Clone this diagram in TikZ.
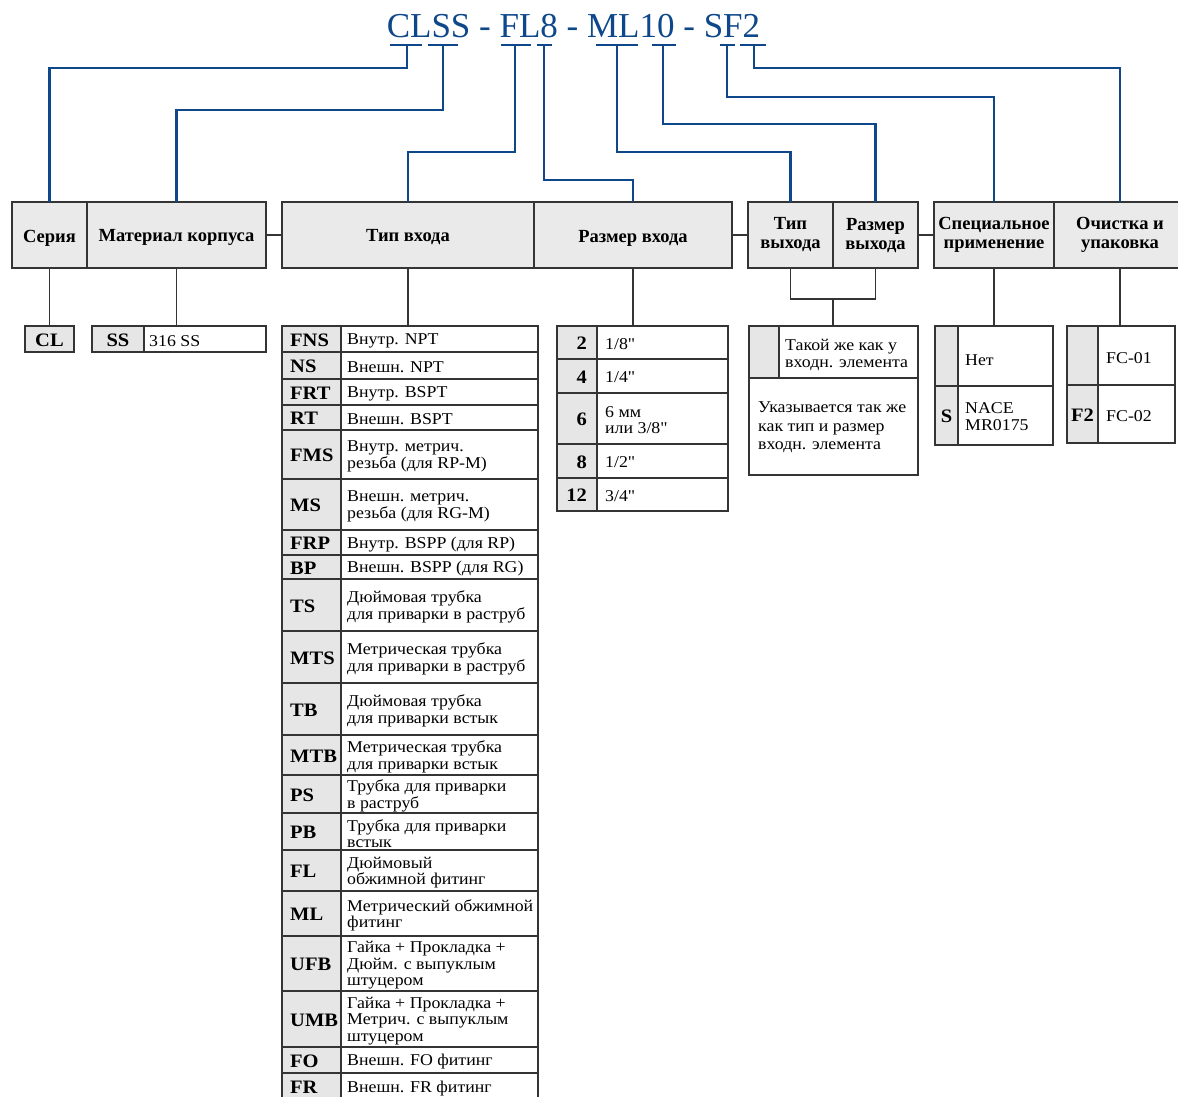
\documentclass[tikz,border=0pt]{standalone}
\usepackage{fontspec}
\setmainfont{Liberation Serif}
\newfontfamily\tabfont{Liberation Serif}[FakeStretch=1.08]
\usetikzlibrary{calc}

\definecolor{codeblue}{RGB}{14,72,138}
\definecolor{rulegray}{RGB}{52,52,52}
\definecolor{headfill}{RGB}{234,234,234}
\definecolor{keyfill}{RGB}{230,230,230}

\tikzset{
  frame/.style={draw=rulegray, line width=1.4pt, inner sep=0pt, outer sep=0pt},
  headbox/.style={frame, fill=headfill},
  headtxt/.style={inner sep=0pt, align=center, font=\bfseries\fontsize{18.5}{19}\selectfont},
  keybox/.style={frame, fill=keyfill},
  textbox/.style={frame, fill=white},
  keytxt/.style={inner sep=0pt, font=\tabfont\bfseries\fontsize{19}{19}\selectfont},
  desctxt/.style={inner sep=0pt, align=left, font=\tabfont\fontsize{16.5}{16.5}\selectfont},
  conn/.style={draw=codeblue, line width=2.2pt},
  link/.style={draw=rulegray, line width=1.4pt},
}

% rectangular cell given by its corners (x1,y1)-(x2,y2), y counted downwards
\newcommand\cellbox[6]{%
  \pgfmathsetmacro\cellw{#4-#2}\pgfmathsetmacro\cellh{#5-#3}%
  \node[#6, anchor=north west, minimum width=\cellw pt, minimum height=\cellh pt] (#1) at (#2,#3) {};}
% header cell with centred text, #7 = vertical shift of the text
\newcommand\headcell[7]{%
  \cellbox{#1}{#2}{#3}{#4}{#5}{headbox}
  \node[headtxt] (#1-t) at ([yshift=#7]#1.center) {#6};}
% one row of the inlet type table
\newcommand\inrow[5]{%
  \cellbox{c#1}{282}{#2}{341}{#3}{keybox}
  \cellbox{d#1}{341}{#2}{538}{#3}{textbox}
  \node[keytxt, anchor=west] (k#1) at ([xshift=8pt,yshift=-1pt]c#1.west) {#4};
  \node[desctxt, anchor=west] (s#1) at ([xshift=6pt,yshift=-2pt]d#1.west) {#5};}
% one row of the inlet size table
\newcommand\sizerow[5]{%
  \cellbox{z#1}{557}{#2}{597}{#3}{keybox}
  \cellbox{w#1}{597}{#2}{728}{#3}{textbox}
  \node[keytxt, anchor=east] (kz#1) at ([xshift=-10pt,yshift=-1pt]z#1.east) {#4};
  \node[desctxt, anchor=west] (sz#1) at ([xshift=8pt,yshift=-1.5pt]w#1.west) {#5};}

\begin{document}
\begin{tikzpicture}[x=1pt, y=-1pt]
\useasboundingbox (0,0) rectangle (1178,1096);
\fill[white] (0,0) rectangle (1178,1096);

% ordering code
\node[inner sep=0pt, text=codeblue, font=\fontsize{35}{35}\selectfont, anchor=base]
  (title) at (573.5,37) {CLSS - FL8 - ML10 - SF2};

% underline bars under each part of the code
\foreach \xa/\xb in {390/422, 428/458, 501/531, 537/552, 596/638, 652/676, 720/735, 740/766}
  \draw[conn] (\xa,45) -- (\xb,45);
\coordinate (uCL) at (407,45);
\coordinate (uSS) at (443,45);
\coordinate (uFL) at (515,45);
\coordinate (uE)  at (544,45);
\coordinate (uML) at (617,45);
\coordinate (uX)  at (663,45);
\coordinate (uS)  at (727,45);
\coordinate (uF)  at (754,45);

% header row
\headcell{ser}{12}{202}{87}{268}{Серия}{-3pt}
\headcell{mat}{87}{202}{266}{268}{Материал корпуса}{-2pt}
\headcell{tin}{282}{202}{534}{268}{Тип входа}{-2pt}
\headcell{sin}{534}{202}{732}{268}{Размер входа}{-3pt}
\headcell{tout}{748}{202}{833}{268}{Тип\\выхода}{0pt}
\headcell{sout}{833}{202}{918}{268}{Размер\\выхода}{-1pt}
\headcell{spec}{934}{202}{1054}{268}{Специальное\\применение}{0pt}
\headcell{cln}{1054}{202}{1186}{268}{Очистка и\\упаковка}{0pt}

\draw[link] (mat.east) -- (tin.west);
\draw[link] (sin.east) -- (tout.west);
\draw[link] (sout.east) -- (spec.west);

% code parts to headers
\draw[conn] (uCL) -- ++(0,23)  -| (ser.north);
\draw[conn] (uSS) -- ++(0,65)  -| (mat.north);
\draw[conn] (uFL) -- ++(0,107) -| (tin.north);
\draw[conn] (uE)  -- ++(0,135) -| (sin.north);
\draw[conn] (uML) -- ++(0,107) -| (tout.north);
\draw[conn] (uX)  -- ++(0,79)  -| (sout.north);
\draw[conn] (uS)  -- ++(0,52)  -| (spec.north);
\draw[conn] (uF)  -- ++(0,23)  -| (cln.north);

% series and body material
\cellbox{clbox}{25}{326}{74}{352}{keybox}
\node[keytxt] (clkey) at ([yshift=-1pt]clbox.center) {CL};
\cellbox{ssbox}{92}{326}{144}{352}{keybox}
\node[keytxt] (sskey) at ([yshift=-1pt]ssbox.center) {SS};
\cellbox{ssd}{144}{326}{266}{352}{textbox}
\node[desctxt, anchor=west] (ssdesc) at ([xshift=5pt,yshift=-2pt]ssd.west) {316 SS};
\draw[link] (ser.south) -- (clbox.north);
\draw[link] (mat.south) -- (mat.south |- ssd.north);

% inlet type
\inrow{FNS}{326}{352}{FNS}{Внутр. NPT}
\inrow{NS}{352}{379}{NS}{Внешн. NPT}
\inrow{FRT}{379}{405}{FRT}{Внутр. BSPT}
\inrow{RT}{405}{430}{RT}{Внешн. BSPT}
\inrow{FMS}{430}{479}{FMS}{Внутр. метрич.\\резьба (для RP-M)}
\inrow{MS}{479}{530}{MS}{Внешн. метрич.\\резьба (для RG-M)}
\inrow{FRP}{530}{555}{FRP}{Внутр. BSPP (для RP)}
\inrow{BP}{555}{579}{BP}{Внешн. BSPP (для RG)}
\inrow{TS}{579}{631}{TS}{Дюймовая трубка\\для приварки в раструб}
\inrow{MTS}{631}{683}{MTS}{Метрическая трубка\\для приварки в раструб}
\inrow{TB}{683}{735}{TB}{Дюймовая трубка\\для приварки встык}
\inrow{MTB}{735}{775}{MTB}{Метрическая трубка\\для приварки встык}
\inrow{PS}{775}{813}{PS}{Трубка для приварки\\в раструб}
\inrow{PB}{813}{850}{PB}{Трубка для приварки\\встык}
\inrow{FL}{850}{891}{FL}{Дюймовый\\обжимной фитинг}
\inrow{ML}{891}{936}{ML}{Метрический обжимной\\фитинг}
\inrow{UFB}{936}{991}{UFB}{Гайка + Прокладка +\\Дюйм. с выпуклым\\штуцером}
\inrow{UMB}{991}{1047}{UMB}{Гайка + Прокладка +\\Метрич. с выпуклым\\штуцером}
\inrow{FO}{1047}{1073}{FO}{Внешн. FO фитинг}
\inrow{FR}{1073}{1100}{FR}{Внешн. FR фитинг}
\draw[link] (tin.south) -- (tin.south |- cFNS.north);

% inlet size
\sizerow{2}{326}{359}{2}{1/8"}
\sizerow{4}{359}{393}{4}{1/4"}
\sizerow{6}{393}{444}{6}{6 мм\\или 3/8"}
\sizerow{8}{444}{478}{8}{1/2"}
\sizerow{12}{478}{511}{12}{3/4"}
\draw[link] (sin.south) -- (sin.south |- z2.north);

% outlet type and size
\cellbox{oa}{749}{326}{779}{378}{keybox}
\cellbox{ob}{779}{326}{918}{378}{textbox}
\node[desctxt, anchor=west] (obt) at ([xshift=6pt,yshift=-3pt]ob.west) {Такой же как у\\входн. элемента};
\cellbox{oc}{749}{378}{918}{475}{textbox}
\node[desctxt, anchor=west, font=\tabfont\fontsize{16.5}{18.5}\selectfont] (oct) at ([xshift=9pt,yshift=-1pt]oc.west) {Указывается так же\\как тип и размер\\входн. элемента};
\draw[link] (tout.south) -- ++(0,31) -| (sout.south);
\coordinate (obm) at ($(tout.south)!0.5!(sout.south)+(0,31)$);
\draw[link] (obm) -- (obm |- ob.north);

% special application
\cellbox{pa}{935}{326}{958}{386}{keybox}
\cellbox{pb}{958}{326}{1053}{386}{textbox}
\node[desctxt, anchor=west] (pbt) at ([xshift=7pt,yshift=-4pt]pb.west) {Нет};
\cellbox{pc}{935}{386}{958}{445}{keybox}
\node[keytxt] (pck) at ([yshift=-1pt]pc.center) {S};
\cellbox{pd}{958}{386}{1053}{445}{textbox}
\node[desctxt, anchor=west] (pdt) at ([xshift=7pt,yshift=-1pt]pd.west) {NACE\\MR0175};
\draw[link] (spec.south) -- (spec.south |- pb.north);

% cleaning and packaging
\cellbox{qa}{1067}{326}{1098}{385}{keybox}
\cellbox{qb}{1098}{326}{1175}{385}{textbox}
\node[desctxt, anchor=west] (qbt) at ([xshift=8pt,yshift=-3pt]qb.west) {FC-01};
\cellbox{qc}{1067}{385}{1098}{443}{keybox}
\node[keytxt] (qck) at ([yshift=-1pt]qc.center) {F2};
\cellbox{qd}{1098}{385}{1175}{443}{textbox}
\node[desctxt, anchor=west] (qdt) at ([xshift=8pt,yshift=-2pt]qd.west) {FC-02};
\draw[link] (cln.south) -- (cln.south |- qb.north);
\end{tikzpicture}
\end{document}
